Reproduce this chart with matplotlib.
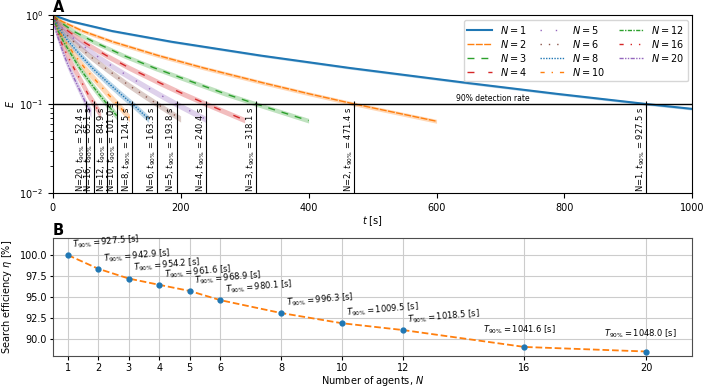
import numpy as np
import matplotlib
matplotlib.use("Agg")
import matplotlib.pyplot as plt

# ====== Data ======
agents = [1, 2, 3, 4, 5, 6, 8, 10, 12, 16, 20]
t90 = [927.5, 471.4, 318.1, 240.4, 193.8, 163.3, 124.5, 101.0, 84.9, 65.1, 52.4]
T90_total = [927.5, 942.9, 954.2, 961.6, 968.9, 980.1, 996.3, 1009.5, 1018.5, 1041.6, 1048.0]

# undetected fraction E(t) for each swarm size
t_n1 = [0, 28, 93, 186, 325, 464, 649, 788, 927.5, 1000]
t_n2 = [0, 14, 47, 94, 165, 236, 330, 401, 471.4, 600]
t_n3 = [0, 10, 32, 64, 111, 159, 223, 270, 318.1, 400]
t_n4 = [0, 7, 24, 48, 84, 120, 168, 204, 240.4, 300]
t_n5 = [0, 6, 19, 39, 68, 97, 136, 165, 193.8, 240]
t_n6 = [0, 5, 16, 33, 57, 82, 114, 139, 163.3, 200]
t_n8 = [0, 4, 12, 25, 44, 62, 87, 106, 124.5, 150]
t_n10 = [0, 3, 10, 20, 35, 50, 71, 86, 101.0, 120]
t_n12 = [0, 2.5, 8.5, 17, 30, 42, 59, 72, 84.9, 100]
t_n16 = [0, 2, 6.5, 13, 23, 33, 46, 55, 65.1, 75]
t_n20 = [0, 1.6, 5, 10.5, 18, 26, 37, 45, 52.4, 60]

E_n1 = [1.0, 0.85, 0.66, 0.50, 0.35, 0.254, 0.172, 0.130, 0.100, 0.088]
E_n2 = [1.0, 0.85, 0.66, 0.50, 0.35, 0.254, 0.172, 0.130, 0.100, 0.064]
E_n3 = [1.0, 0.85, 0.66, 0.50, 0.35, 0.254, 0.172, 0.130, 0.100, 0.065]
E_n4 = [1.0, 0.85, 0.66, 0.50, 0.35, 0.254, 0.172, 0.130, 0.100, 0.066]
E_n5 = [1.0, 0.85, 0.66, 0.50, 0.35, 0.254, 0.172, 0.130, 0.100, 0.067]
E_n6 = [1.0, 0.85, 0.66, 0.50, 0.35, 0.254, 0.172, 0.130, 0.100, 0.068]
E_n8 = [1.0, 0.85, 0.66, 0.50, 0.35, 0.254, 0.172, 0.130, 0.100, 0.068]
E_n10 = [1.0, 0.85, 0.66, 0.50, 0.35, 0.254, 0.172, 0.130, 0.100, 0.070]
E_n12 = [1.0, 0.85, 0.66, 0.50, 0.35, 0.254, 0.172, 0.130, 0.100, 0.074]
E_n16 = [1.0, 0.85, 0.66, 0.50, 0.35, 0.254, 0.172, 0.130, 0.100, 0.076]
E_n20 = [1.0, 0.85, 0.66, 0.50, 0.35, 0.254, 0.172, 0.130, 0.100, 0.080]

# relative spread of the shaded band
spread = [0.03, 0.05, 0.06, 0.07, 0.08, 0.08, 0.09, 0.10, 0.10, 0.12, 0.12]

curves_t = [t_n1, t_n2, t_n3, t_n4, t_n5, t_n6, t_n8, t_n10, t_n12, t_n16, t_n20]
curves_E = [E_n1, E_n2, E_n3, E_n4, E_n5, E_n6, E_n8, E_n10, E_n12, E_n16, E_n20]

# ====== Styles ======
colors = ["C0", "C1", "C2", "C3", "C4", "C5"] * 2
linestyles = [
    "-",
    (0, (5, 1)),
    (0, (5, 5)),
    (0, (5, 10)),
    (0, (1, 10)),
    (0, (1, 5)),
    (0, (1, 1)),
    (0, (3, 5, 1, 5)),
    (0, (3, 1, 1, 1)),
    (0, (3, 5, 1, 5, 1, 5)),
    (0, (3, 1, 1, 1, 1, 1)),
]

plt.rcParams["font.size"] = 7
plt.rcParams["axes.linewidth"] = 0.8

fig = plt.figure(figsize=(7.06, 3.88), dpi=100)
ax_a = fig.add_axes([0.0746, 0.5026, 0.9062, 0.4588])
ax_b = fig.add_axes([0.0746, 0.0832, 0.9054, 0.3026])

# ====== Panel A ======
for i, n in enumerate(agents):
    t = np.array(curves_t[i])
    e = np.array(curves_E[i])
    ax_a.fill_between(t, e * (1 - spread[i]), e * (1 + spread[i]),
                      color=colors[i], alpha=0.3, lw=0)
    ax_a.plot(t, e, color=colors[i], ls=linestyles[i],
              lw=1.5 if n == 1 else 1.0, label=f"$N = {n}$")

ax_a.axhline(0.1, color="k", lw=1.0)
ax_a.text(630, 0.102, "90% detection rate", fontsize=5.5, va="bottom")
ax_a.vlines(t90, 0.01, 0.1, color="k", lw=0.8)
ax_a.plot(t90, [0.1] * len(t90), "k+", ms=5, mew=0.8)
for n, tv in zip(agents, t90):
    ax_a.text(tv + 1, 0.0103, f"N={n}, $t_{{90\\%}}$ = {tv:.1f} s",
              rotation=90, ha="right", va="bottom", fontsize=6)

ax_a.set_yscale("log")
ax_a.set_ylim(0.01, 1)
ax_a.set_xlim(0, 1000)
ax_a.set_xlabel("$t$ [s]", labelpad=1)
ax_a.set_ylabel("$E$", labelpad=2)
ax_a.legend(loc="upper right", ncol=3, fontsize=7, borderpad=0.4,
            handlelength=2.5, columnspacing=1.4, labelspacing=0.2)
ax_a.text(0.0, 1.0, "A", transform=ax_a.transAxes, fontsize=10.5,
          fontweight="heavy", va="bottom")

# ====== Panel B ======
eta = [T90_total[0] / v * 100 for v in T90_total]
ax_b.plot(agents, eta, color="C1", ls="--", lw=1.3, zorder=2)
ax_b.plot(agents, eta, "o", color="C0", ms=3.5, zorder=3)
for n, e, v in zip(agents, eta, T90_total):
    label = f"$T_{{90\\%}} = {v:.1f}$ [s]"
    if n >= 16:
        ax_b.annotate(label, (n, e), xytext=(-4, 8), textcoords="offset points",
                      ha="center", va="bottom", fontsize=6)
    else:
        ax_b.annotate(label, (n, e), xytext=(4, 3), textcoords="offset points",
                      ha="left", va="bottom", fontsize=6, rotation=5,
                      rotation_mode="anchor")

ax_b.set_xticks(agents)
ax_b.set_xlim(0.5, 21.5)
ax_b.set_ylim(88, 102)
ax_b.set_yticks([90.0, 92.5, 95.0, 97.5, 100.0])
ax_b.yaxis.set_major_formatter(matplotlib.ticker.FormatStrFormatter("%.1f"))
ax_b.grid(True, color="0.8", lw=0.8)
ax_b.set_axisbelow(True)
for sp in ax_b.spines.values():
    sp.set_color("0.3")
ax_b.tick_params(axis="y", length=2, pad=2)
ax_b.tick_params(axis="x", length=3, pad=2.5)
ax_b.set_xlabel("Number of agents, $N$", labelpad=0.5)
ax_b.set_ylabel("Search efficiency $\\eta$ [%]", labelpad=4)
ax_b.text(0.0, 1.0, "B", transform=ax_b.transAxes, fontsize=10.5,
          fontweight="heavy", va="bottom")

fig.savefig("out.png", dpi=100)
